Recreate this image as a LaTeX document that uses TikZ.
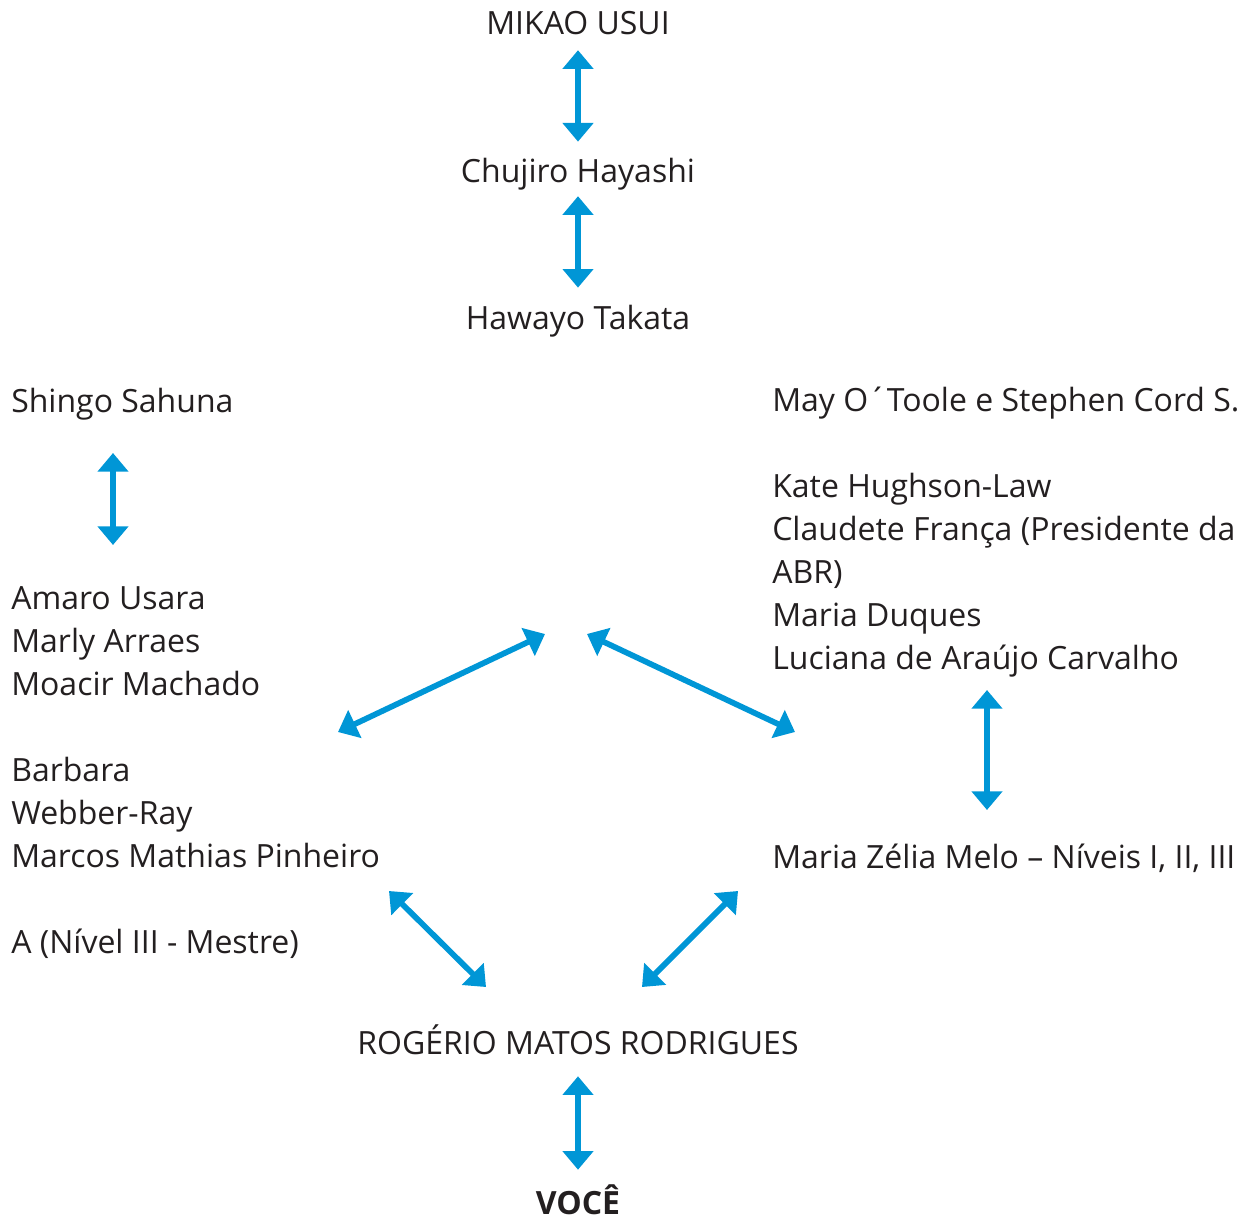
\documentclass[tikz,border=0pt]{standalone}
\usepackage{fontspec}
\setmainfont{Open Sans}
\usepackage{xcolor}
\usetikzlibrary{arrows.meta}
\definecolor{lineblue}{RGB}{0,150,214}
\definecolor{inkgray}{RGB}{35,31,32}

\begin{document}
\begin{tikzpicture}[x=0.75pt,y=-0.75pt,
		every node/.style={inner sep=0pt,text=inkgray,font=\fontsize{24pt}{32.25pt}\selectfont},
		lbl/.style={text height=17.5pt,text depth=5pt},
		blk/.style={align=left,anchor=base west},
		link/.style={lineblue,line width=4.3pt,{Triangle[width=22.5pt,length=14pt]}-{Triangle[width=22.5pt,length=14pt]}}]
		\useasboundingbox (0,0) rectangle (1256,1220);
		% lineage, top
		\node[lbl,anchor=base] (usui) at (578,35) {MIKAO USUI};
		\node[lbl,anchor=base] (hayashi) at (578,183) {Chujiro Hayashi};
		\node[lbl,anchor=base] (takata) at (578,329) {Hawayo Takata};
		\draw[link,shorten <=6.2pt,shorten >=13.3pt] (usui.south) -- (hayashi.north);
		\draw[link,shorten <=4.7pt,shorten >=13.3pt] (hayashi.south) -- (takata.north);
		% left branch (base = last line)
		\node[lbl,anchor=base west] (sahuna) at (11,412) {Shingo Sahuna};
		\node[blk] (amaro) at (11,953) {Amaro Usara\\Marly Arraes\\Moacir Machado\\[32.25pt]Barbara\\Webber-Ray\\Marcos Mathias Pinheiro\\[32.25pt]A (Nível III - Mestre)};
		\coordinate (sa) at (113,453);
		\coordinate (sb) at (113,545);
		\draw[link] (sa) -- (sb);
		% right branch
		\node[blk] (otoole) at (772,669) {May O´Toole e Stephen Cord S.\\[32.25pt]Kate Hughson-Law\\Claudete França (Presidente da\\ABR)\\Maria Duques\\Luciana de Araújo Carvalho};
		\node[lbl,anchor=base west] (zelia) at (772,868) {Maria Zélia Melo – Níveis I, II, III};
		\coordinate (ra) at (987,690);
		\coordinate (rb) at (987,810);
		\draw[link] (ra) -- (rb);
		% middle
		\coordinate (hubl) at (545,634);
		\coordinate (hubr) at (587,634);
		\coordinate (midl) at (338,732);
		\coordinate (midr) at (795,732);
		\draw[link] (midl) -- (hubl);
		\draw[link] (hubr) -- (midr);
		% bottom
		\node[lbl,anchor=base] (rogerio) at (578,1054) {ROGÉRIO MATOS RODRIGUES};
		\node[lbl,anchor=base,text depth=0pt,font=\fontsize{24pt}{32.25pt}\selectfont\bfseries] (voce) at (578,1214) {VOCÊ};
		\coordinate (lowl) at (389,891);
		\coordinate (lowr) at (738,891);
		\coordinate (rogl) at (486,987);
		\coordinate (rogr) at (642,987);
		\draw[link] (lowl) -- (rogl);
		\draw[link] (lowr) -- (rogr);
		\draw[link,shorten <=11.5pt,shorten >=15.5pt] (rogerio.south) -- (voce.north);
	\end{tikzpicture}
\end{document}
